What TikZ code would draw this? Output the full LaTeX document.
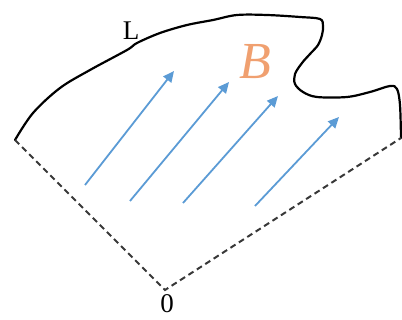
\documentclass[tikz,border=0pt]{standalone}
\usepackage{fontspec}
\setmainfont{Liberation Serif}
\usetikzlibrary{arrows.meta}
\definecolor{fieldblue}{HTML}{5B9BD5}
\definecolor{borange}{HTML}{F0A070}
\definecolor{dashgrey}{HTML}{383838}
\begin{document}
\begin{tikzpicture}[x=1pt,y=-1pt,
  boundary/.style={line width=2.2pt,black,line join=round,line cap=round},
  openedge/.style={line width=2pt,dashgrey,dash pattern=on 6pt off 4pt},
  fieldarrow/.style={line width=1.8pt,fieldblue,-{Triangle[length=11pt,width=10pt]}},
  lbl/.style={inner sep=0pt,font=\fontsize{27}{27}\selectfont}]
\useasboundingbox (0,0) rectangle (402,320);
% boundary points
\coordinate (P0) at (15,140);
\coordinate (O) at (165,290);
\coordinate (PE) at (401,138);
% curved boundary L
\draw[boundary] plot[smooth,tension=0.55] coordinates {
  (15,140) (33,113) (60,88) (90,70) (127,50) (137,43) (160,33) (187,25)
  (213,20) (237,15) (267,15) (300,17) (320,19) (323,26) (322,35) (318,45)
  (310,54) (302,63) (295,74) (295,84) (303,92) (317,97) (347,97) (370,92)
  (390,86) (397,89) (400,105) (401,138)};
% straight open edges
\draw[openedge] (P0) -- (O) -- (PE);
% field arrows
\coordinate (a1s) at (85,185);  \coordinate (a1e) at (174,71);
\coordinate (a2s) at (130,201); \coordinate (a2e) at (229,82);
\coordinate (a3s) at (183,203); \coordinate (a3e) at (278,96);
\coordinate (a4s) at (255,206); \coordinate (a4e) at (339,117);
\draw[fieldarrow] (a1s) -- (a1e);
\draw[fieldarrow] (a2s) -- (a2e);
\draw[fieldarrow] (a3s) -- (a3e);
\draw[fieldarrow] (a4s) -- (a4e);
% labels
\node[lbl] (Llab) at (131,31) {L};
\node[inner sep=0pt,text=borange,font=\fontsize{52}{52}\selectfont\itshape] (Blab) at (255,62) {B};
\node[lbl] (Olab) at (167,304) {0};
\end{tikzpicture}
\end{document}
